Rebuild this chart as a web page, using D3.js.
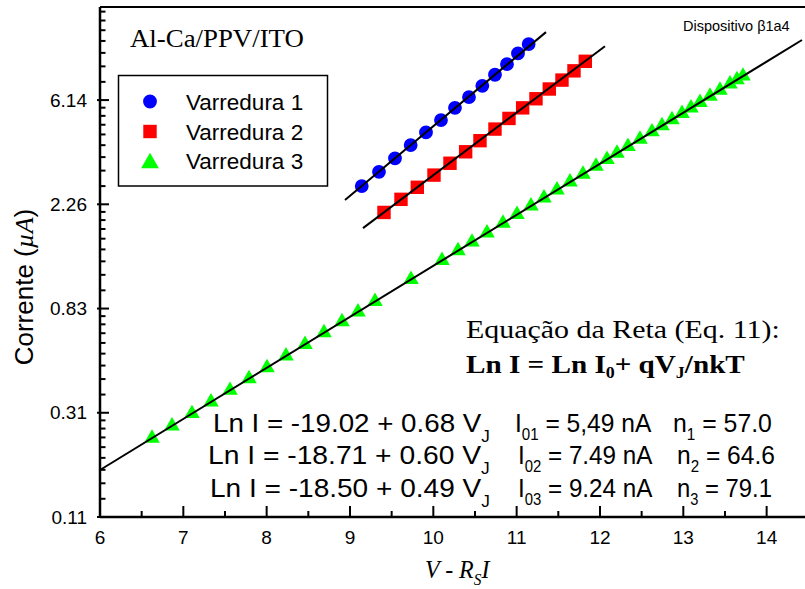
<!DOCTYPE html>
<html><head><meta charset="utf-8">
<script src="https://cdn.jsdelivr.net/npm/d3@7"></script>
<style>body{margin:0;background:#fff}svg{display:block}</style>
</head><body>
<svg id="c" width="805" height="589"></svg>
<script>
// ---------- data ----------
const seriesNames = ["Varredura 1", "Varredura 2", "Varredura 3"];
const seriesColors = ["#0000ff", "#ff0000", "#00ff00"];

const v1 = [9.141, 9.348, 9.540, 9.728, 9.912, 10.092, 10.260, 10.428, 10.588, 10.740, 10.884, 11.016, 11.144];
const i1 = [2.691, 3.086, 3.512, 3.987, 4.504, 5.068, 5.703, 6.322, 7.043, 7.830, 8.671, 9.612, 10.51];

const v2 = [9.408, 9.612, 9.808, 10.008, 10.200, 10.388, 10.560, 10.740, 10.908, 11.072, 11.232, 11.392, 11.544, 11.688, 11.824];
const i2 = [2.09, 2.37, 2.66, 2.99, 3.35, 3.74, 4.16, 4.65, 5.15, 5.70, 6.22, 6.83, 7.44, 8.13, 8.91];

const v3 = [6.624, 6.864, 7.104, 7.332, 7.560, 7.788, 8.004, 8.232, 8.460, 8.688, 8.904, 9.096, 9.300, 9.732,
            10.104, 10.296, 10.464, 10.644, 10.836, 11.004, 11.172, 11.328, 11.484, 11.640, 11.796, 11.952,
            12.084, 12.204, 12.336, 12.480, 12.624, 12.744, 12.864, 12.984, 13.092, 13.200, 13.320, 13.440,
            13.560, 13.644, 13.716];
const i3 = [0.2397, 0.2696, 0.3033, 0.3391, 0.3791, 0.4240, 0.4713, 0.5268, 0.5892, 0.6587, 0.7322, 0.8044, 0.8889, 1.098,
            1.318, 1.448, 1.572, 1.717, 1.886, 2.048, 2.223, 2.400, 2.590, 2.796, 3.018, 3.257,
            3.475, 3.685, 3.931, 4.219, 4.527, 4.801, 5.091, 5.400, 5.692, 6.002, 6.365, 6.750,
            7.158, 7.460, 7.728];

// fitted lines: ln(I/µA) = a + b V, drawn between start and end V
const fitIntercepts = [-5.116, -4.916, -4.672];
const fitSlopes = [0.668, 0.601, 0.4897];
const fitStarts = [8.94, 9.156, 6.0];
const fitEnds = [11.352, 12.06, 14.424];

const xTicks = [6, 7, 8, 9, 10, 11, 12, 13, 14];
const xMinorTicks = [6.5, 7.5, 8.5, 9.5, 10.5, 11.5, 12.5, 13.5, 14.5];
const yTickValues = [0.1125, 0.3058, 0.8311, 2.2594, 6.1416];
const yTickLabels = ["0.11", "0.31", "0.83", "2.26", "6.14"];

const eqLines = ["Ln I = -19.02 + 0.68 V", "Ln I = -18.71 + 0.60 V", "Ln I = -18.50 + 0.49 V"];
const i0Subs = ["01", "02", "03"];
const i0Values = [" = 5,49 nA", " = 7.49 nA", " = 9.24 nA"];
const nSubs = ["1", "2", "3"];
const nValues = [" = 57.0", " = 64.6", " = 79.1"];

// ---------- chart ----------
const svg = d3.select("#c");
svg.append("rect").attr("width", 805).attr("height", 589).attr("fill", "#fff");

const x = d3.scaleLinear().domain([6, 14.5]).range([100, 808.3]);
const y = d3.scaleLog().domain([0.1125, 15]).range([517, 7]);
const X0 = 100, Y0 = 517;

// fit lines
const fits = [0, 1, 2].map(k => [fitStarts[k], fitEnds[k]].map(v => [v, Math.exp(fitIntercepts[k] + fitSlopes[k] * v)]));
const line = d3.line().x(d => x(d[0])).y(d => y(d[1]));

const series = [[v1, i1], [v2, i2], [v3, i3]];
const symbols = [d3.symbolCircle, d3.symbolSquare, d3.symbolTriangle];
const sizes = [150, 180, 105];

series.forEach((s, k) => {
  const pts = s[0].map((v, j) => [v, s[1][j]]);
  svg.append("g").selectAll("path").data(pts).join("path")
    .attr("d", d3.symbol().type(symbols[k]).size(sizes[k]))
    .attr("transform", d => `translate(${x(d[0])},${y(d[1])})`)
    .attr("fill", seriesColors[k]);
});
fits.forEach(f => {
  svg.append("path").attr("d", line(f)).attr("fill", "none").attr("stroke", "#000").attr("stroke-width", 2);
});

// axes
const ax = svg.append("g").attr("stroke", "#000").attr("stroke-width", 2);
ax.append("line").attr("x1", X0).attr("x2", 805).attr("y1", Y0).attr("y2", Y0).attr("stroke-width", 2.5);
ax.append("line").attr("x1", X0).attr("x2", X0).attr("y1", 7).attr("y2", Y0 + 1).attr("stroke-width", 2.5);
ax.append("line").attr("x1", X0).attr("x2", 805).attr("y1", 7).attr("y2", 7);

xTicks.forEach(v => ax.append("line").attr("x1", x(v)).attr("x2", x(v)).attr("y1", Y0).attr("y2", Y0 - 11));
xMinorTicks.forEach(v => ax.append("line").attr("x1", x(v)).attr("x2", x(v)).attr("y1", Y0).attr("y2", Y0 - 6));

yTickValues.forEach(v => ax.append("line").attr("x1", X0 - 3).attr("x2", X0 + 9).attr("y1", y(v)).attr("y2", y(v)));
const yMinor = [];
for (let k = 0; k < yTickValues.length; k++) {
  const lo = yTickValues[k];
  const hi = k + 1 < yTickValues.length ? yTickValues[k + 1] : lo * Math.E;
  for (let m = 1; m < 9; m++) {
    const v = lo + m * (hi - lo) / 9;
    if (v < 15) yMinor.push(v);
  }
}
yMinor.forEach(v => ax.append("line").attr("x1", X0).attr("x2", X0 + 5.5).attr("y1", y(v)).attr("y2", y(v)));

// tick labels
const lab = svg.append("g").attr("font-family", "Arial, 'Liberation Sans', sans-serif").attr("font-size", 19).attr("fill", "#000");
xTicks.forEach(v => lab.append("text").attr("x", x(v)).attr("y", 544).attr("text-anchor", "middle").text(v));
yTickValues.forEach((v, k) => lab.append("text").attr("x", 87).attr("y", y(v) + 6.5).attr("text-anchor", "end").text(yTickLabels[k]));

function stretch(t, x0, w) {
  const bw = t.node().getBBox().width;
  const s = w / bw;
  t.attr("transform", `translate(${x0},0) scale(${s},1) translate(${-x0},0)`);
}

// axis titles
const yt = svg.append("text").attr("transform", "translate(33,287) rotate(-90)")
  .attr("text-anchor", "middle").attr("font-family", "Arial, 'Liberation Sans', sans-serif").attr("font-size", 26);
yt.append("tspan").text("Corrente (");
yt.append("tspan").attr("font-family", "'Liberation Serif', 'Times New Roman', serif").attr("font-style", "italic").text("µA");
yt.append("tspan").text(")");

const xt = svg.append("text").attr("x", 425).attr("y", 578)
  .attr("font-family", "'Liberation Serif', 'Times New Roman', serif").attr("font-style", "italic").attr("font-size", 25);
xt.append("tspan").text("V - R");
xt.append("tspan").attr("font-size", 16).attr("dy", 7).text("S");
xt.append("tspan").attr("dy", -7).text("I");
stretch(xt, 425, 66);

// annotations
const t1 = svg.append("text").attr("x", 130).attr("y", 47.5)
  .attr("font-family", "'Liberation Serif', 'Times New Roman', serif").attr("font-size", 25).text("Al-Ca/PPV/ITO");
stretch(t1, 130, 174);

svg.append("text").attr("x", 683).attr("y", 31)
  .attr("font-family", "Arial, 'Liberation Sans', sans-serif").attr("font-size", 14.5).text("Dispositivo β1a4");

const e1 = svg.append("text").attr("x", 466).attr("y", 338)
  .attr("font-family", "'Liberation Serif', 'Times New Roman', serif").attr("font-size", 26).text("Equação da Reta (Eq. 11):");
stretch(e1, 466, 314);

const e2 = svg.append("text").attr("x", 466).attr("y", 373)
  .attr("font-family", "'Liberation Serif', 'Times New Roman', serif").attr("font-size", 26).attr("font-weight", "bold");
e2.append("tspan").text("Ln I = Ln I");
e2.append("tspan").attr("font-size", 16).attr("dy", 5).text("0");
e2.append("tspan").attr("dy", -5).text("+ qV");
e2.append("tspan").attr("font-size", 16).attr("dy", 5).text("J");
e2.append("tspan").attr("dy", -5).text("/nkT");
stretch(e2, 466, 279);

const rowY = [432, 464, 497];
const rowX1 = [213, 208, 210];
const rowX2 = [515, 518, 518];
const rowX3 = [673, 677, 677];
const rowW1 = [277, 282, 280];
const rowW2 = [137, 135, 135];
const rowW3 = [99, 98, 95];
eqLines.forEach((s, k) => {
  const g = svg.append("g").attr("font-family", "Arial, 'Liberation Sans', sans-serif").attr("font-size", 26);
  const a = g.append("text").attr("x", rowX1[k]).attr("y", rowY[k]);
  a.append("tspan").text(s);
  a.append("tspan").attr("font-size", 16).attr("dy", 10).text("J");
  stretch(a, rowX1[k], rowW1[k]);
  const b = g.append("text").attr("x", rowX2[k]).attr("y", rowY[k]);
  b.append("tspan").text("I");
  b.append("tspan").attr("font-size", 16).attr("dy", 8).text(i0Subs[k]);
  b.append("tspan").attr("dy", -8).text(i0Values[k]);
  stretch(b, rowX2[k], rowW2[k]);
  const c = g.append("text").attr("x", rowX3[k]).attr("y", rowY[k]);
  c.append("tspan").text("n");
  c.append("tspan").attr("font-size", 16).attr("dy", 8).text(nSubs[k]);
  c.append("tspan").attr("dy", -8).text(nValues[k]);
  stretch(c, rowX3[k], rowW3[k]);
});

// legend
const lg = svg.append("g");
lg.append("rect").attr("x", 118.5).attr("y", 75.5).attr("width", 209).attr("height", 110.5)
  .attr("fill", "#fff").attr("stroke", "#000").attr("stroke-width", 1.5);
const legY = [101.5, 131.5, 163];
const legBase = [110, 139.5, 168.5];
seriesNames.forEach((nm, k) => {
  lg.append("path").attr("d", d3.symbol().type(symbols[k]).size(sizes[k] * (k === 2 ? 1.3 : 1))())
    .attr("transform", `translate(150,${legY[k]})`).attr("fill", seriesColors[k]);
  lg.append("text").attr("x", 186).attr("y", legBase[k])
    .attr("font-family", "Arial, 'Liberation Sans', sans-serif").attr("font-size", 22.5).text(nm);
});
</script>
</body></html>
